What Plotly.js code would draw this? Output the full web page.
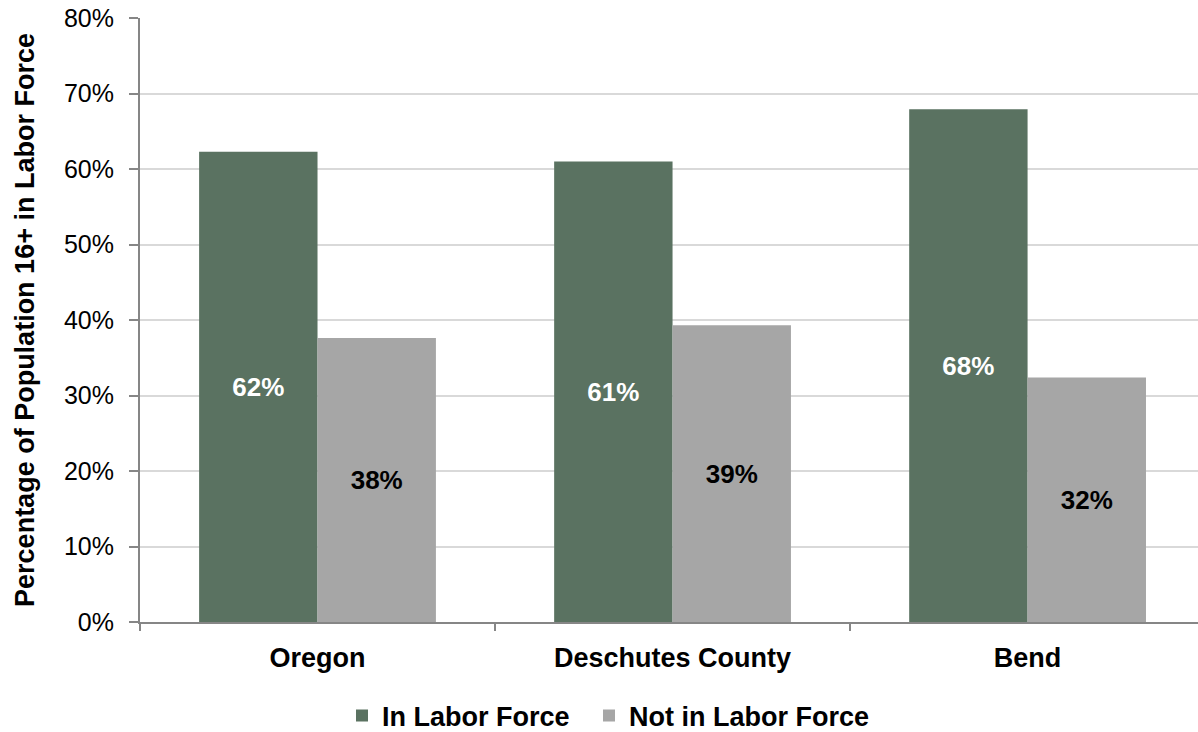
<!DOCTYPE html>
<html>
<head>
<meta charset="utf-8">
<script src="https://cdn.plot.ly/plotly-3.0.1.min.js"></script>
<style>
  html, body { margin: 0; padding: 0; background: #ffffff; }
  #chart { width: 1198px; height: 732px; }
</style>
</head>
<body>
<div id="chart"></div>
<script>
const categories = ["Oregon", "Deschutes County", "Bend"];
const inLaborForce = [62.3, 61.0, 67.9];
const notInLaborForce = [37.6, 39.3, 32.4];
const seriesNames = ["In Labor Force", "Not in Labor Force"];
const yTickValues = [0, 10, 20, 30, 40, 50, 60, 70, 80];
const yTickLabels = ["0%", "10%", "20%", "30%", "40%", "50%", "60%", "70%", "80%"];

const FONT = "Liberation Sans, Arial, sans-serif";

const traces = [
  {
    type: "bar",
    name: seriesNames[0],
    legend: "legend",
    x: categories,
    y: inLaborForce,
    marker: { color: "#5A7261" },
    texttemplate: "%{y:.0f}%",
    textposition: "inside",
    insidetextanchor: "middle",
    textangle: 0,
    textfont: { family: FONT, size: 26, color: "#ffffff", weight: "bold" },
    hoverinfo: "x+y"
  },
  {
    type: "bar",
    name: seriesNames[1],
    legend: "legend2",
    x: categories,
    y: notInLaborForce,
    marker: { color: "#A6A6A6" },
    texttemplate: "%{y:.0f}%",
    textposition: "inside",
    insidetextanchor: "middle",
    textangle: 0,
    textfont: { family: FONT, size: 26, color: "#000000", weight: "bold" },
    hoverinfo: "x+y"
  }
];

const legendBase = {
  orientation: "h",
  xref: "container",
  yref: "container",
  xanchor: "left",
  y: 0.022,
  yanchor: "middle",
  font: { family: FONT, size: 27, color: "#000000", weight: "bold" },
  itemwidth: 30,
  bgcolor: "rgba(0,0,0,0)"
};

const layout = {
  width: 1198,
  height: 732,
  margin: { l: 140, r: 0, t: 18, b: 110, pad: 0, autoexpand: false },
  paper_bgcolor: "#ffffff",
  plot_bgcolor: "#ffffff",
  barmode: "group",
  bargap: 0.333,
  bargroupgap: 0,
  showlegend: true,
  font: { family: FONT, color: "#000000" },
  legend: Object.assign({}, legendBase, { x: 342 / 1198 }),
  legend2: Object.assign({}, legendBase, { x: 589 / 1198 }),
  xaxis: {
    type: "category",
    range: [-0.5, 2.48],
    fixedrange: true,
    showline: true,
    linecolor: "#868686",
    linewidth: 2,
    ticks: "outside",
    tickson: "boundaries",
    ticklen: 7,
    tickwidth: 2,
    tickcolor: "#868686",
    ticklabelstandoff: 11,
    tickfont: { family: FONT, size: 27, color: "#000000", weight: "bold" },
    showgrid: false,
    zeroline: false,
    automargin: false
  },
  yaxis: {
    range: [0, 80],
    fixedrange: true,
    tickvals: yTickValues,
    ticktext: yTickLabels,
    showline: true,
    linecolor: "#868686",
    linewidth: 2,
    ticks: "outside",
    ticklen: 9,
    tickwidth: 2,
    tickcolor: "#868686",
    ticklabelstandoff: 10,
    tickfont: { family: FONT, size: 25, color: "#000000" },
    showgrid: true,
    gridcolor: "#D9D9D9",
    gridwidth: 2,
    zeroline: false,
    automargin: false,
    title: {
      text: "Percentage of Population 16+ in Labor Force",
      font: { family: FONT, size: 27, color: "#000000", weight: "bold" },
      standoff: 22
    }
  }
};

Plotly.newPlot("chart", traces, layout, { displayModeBar: false, staticPlot: true });
</script>
</body>
</html>
